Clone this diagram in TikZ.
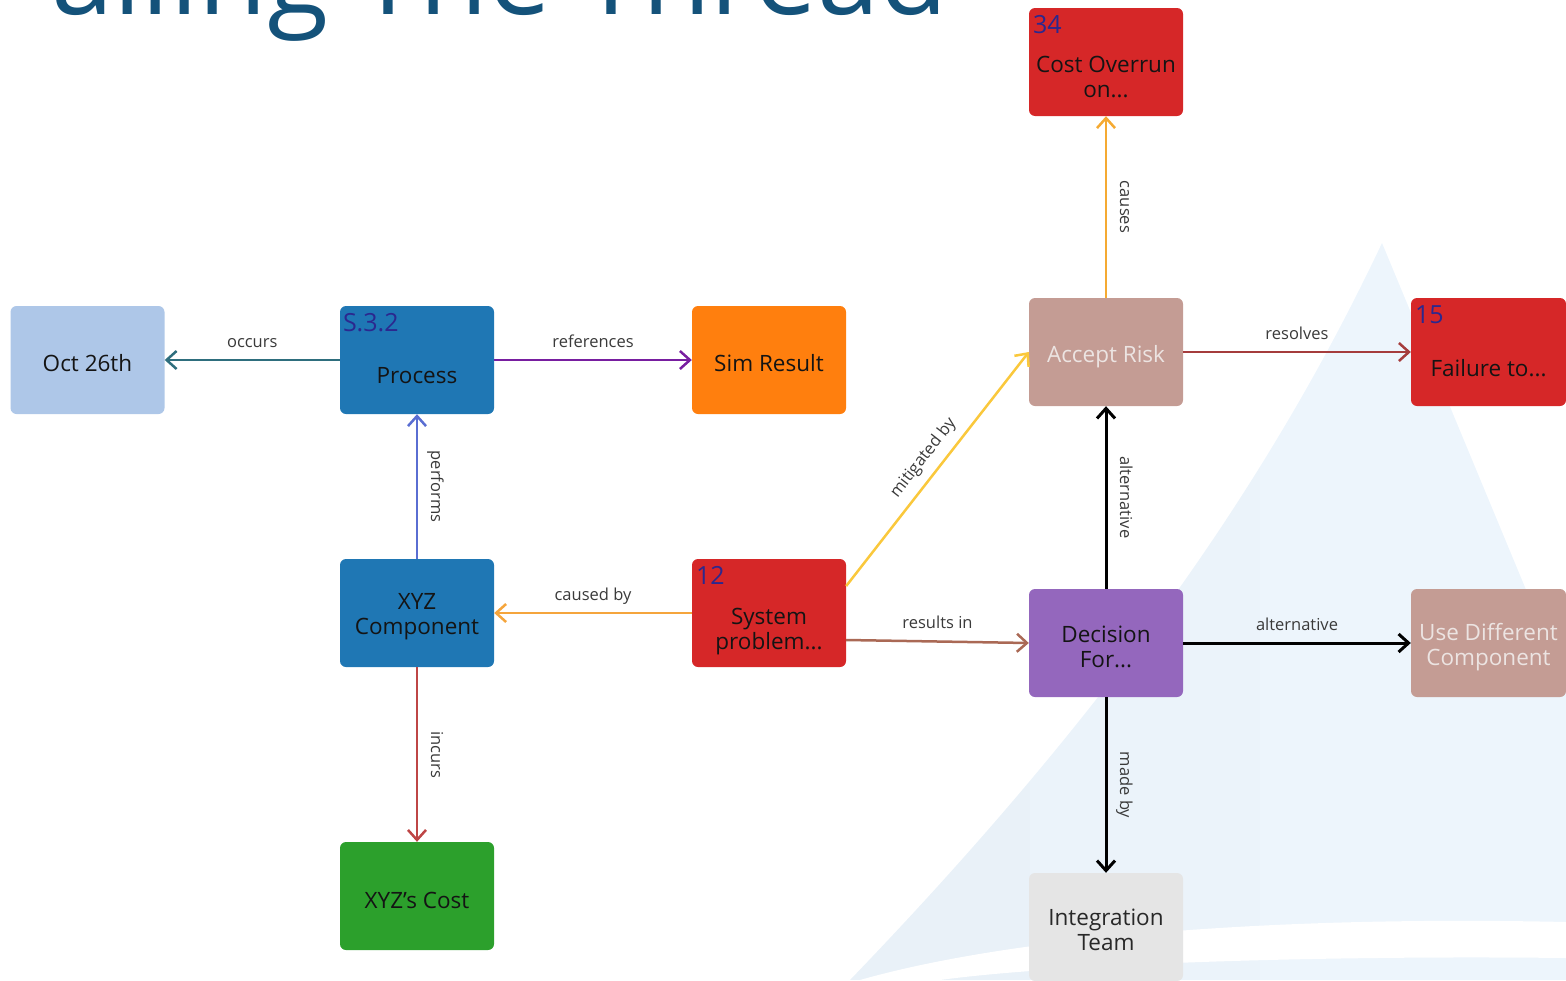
\documentclass[tikz,border=0pt]{standalone}
\usepackage{fontspec}
\setmainfont{Open Sans}
\usetikzlibrary{arrows.meta,calc}
\definecolor{titleblue}{RGB}{20,82,122}
\definecolor{numblue}{RGB}{43,40,143}
\definecolor{txtdark}{RGB}{20,20,20}
\definecolor{txtlight}{RGB}{236,228,226}
\definecolor{lbl}{RGB}{58,58,58}
\definecolor{fOct}{HTML}{AEC7E8}
\definecolor{fBlue}{HTML}{1F77B4}
\definecolor{fOrange}{HTML}{FF7F0E}
\definecolor{fRed}{HTML}{D62728}
\definecolor{fRose}{HTML}{C49C94}
\definecolor{fPurple}{HTML}{9467BD}
\definecolor{fGreen}{HTML}{2CA02C}
\definecolor{fGray}{HTML}{E5E5E5}
\definecolor{cOccurs}{RGB}{46,110,125}
\definecolor{cRefs}{RGB}{120,30,160}
\definecolor{cPerf}{RGB}{90,110,210}
\definecolor{cCaused}{RGB}{245,165,60}
\definecolor{cIncurs}{RGB}{190,70,70}
\definecolor{cMitig}{RGB}{250,200,60}
\definecolor{cResults}{RGB}{170,105,85}
\definecolor{cCauses}{RGB}{245,170,50}
\definecolor{cResolves}{RGB}{165,60,60}
\definecolor{mtnA}{RGB}{233,241,248}
\definecolor{mtnB}{RGB}{235,243,250}
\definecolor{mtnC}{RGB}{237,245,252}
\tikzset{
  box/.style={rounded corners=6pt, minimum width=154pt, minimum height=108pt, inner sep=0pt, draw=none},
  ntext/.style={font=\fontsize{22.5}{25}\selectfont, text=txtdark, align=center, inner sep=0pt},
  num/.style={font=\fontsize{25}{28}\selectfont, text=numblue, anchor=base west, inner sep=0pt},
  elab/.style={font=\fontsize{16.5}{19}\selectfont, text=lbl, text height=0.75em, text depth=0.25em, inner sep=0pt, outer sep=10.5pt},
  vlab/.style={elab, rotate=-90, anchor=south, outer sep=11.5pt},
  conn/.style={line width=2.5pt, -{Straight Barb[length=10pt,width=18pt]}},
  bconn/.style={line width=3pt, black, -{Straight Barb[length=10pt,width=18pt]}},
  titletext/.style={font=\fontsize{112}{116}\selectfont, text=titleblue, inner sep=0pt, anchor=base west},
}
\begin{document}
\begin{tikzpicture}[x=1pt,y=-1pt]
\useasboundingbox (0,0) rectangle (1566,980);
\clip (0,0) rectangle (1566,980);
% background mountain
\begin{scope}
  \clip (850,980) .. controls (1110,710) and (1270,480) .. (1382,243) -- (1566,686) -- (1566,980) -- cycle;
  \fill[mtnA] (800,200) rectangle (1030,980);
  \fill[mtnB] (1030,200) rectangle (1260,980);
  \fill[mtnC] (1260,200) rectangle (1566,980);
\end{scope}
\fill[white] (860,980) .. controls (1000,940) and (1250,915) .. (1566,922) -- (1566,958) .. controls (1300,955) and (1050,965) .. (940,980) -- cycle;
% title
\node[titletext] (title) at (51,14) {ailing The Thread};
% boxes
\node[box, fill=fOct]    (oct)   at (87.5,360) {};
\node[box, fill=fBlue]   (proc)  at (417,360)  {};
\node[box, fill=fOrange] (sim)   at (769,360)  {};
\node[box, fill=fRed]    (cost)  at (1106,62)  {};
\node[box, fill=fRose]   (acc)   at (1106,352) {};
\node[box, fill=fRed, minimum width=155pt] (fail) at (1488.5,352) {};
\node[box, fill=fBlue]   (xyz)   at (417,613)  {};
\node[box, fill=fRed]    (sys)   at (769,613)  {};
\node[box, fill=fPurple] (dec)   at (1106,643) {};
\node[box, fill=fRose, minimum width=155pt] (use) at (1488.5,643) {};
\node[box, fill=fGreen]  (xcost) at (417,896)  {};
\node[box, fill=fGray]   (integ) at (1106,927) {};
% box texts
\node[ntext] (octT)   at ($(oct.center)+(0,3)$) {Oct 26th};
\node[ntext] (procT)  at ($(proc.center)+(0,16)$) {Process};
\node[num]   (procN)  at ($(proc.north west)+(3,26)$) {S.3.2};
\node[ntext] (simT)   at ($(sim.center)+(0,3)$) {Sim Result};
\node[ntext] (costT)  at ($(cost.center)+(0,15)$) {Cost Overrun\\on...};
\node[num]   (costN)  at ($(cost.north west)+(4,26)$) {34};
\node[ntext, text=txtlight] (accT) at ($(acc.center)+(0,5)$) {Accept Risk};
\node[ntext] (failT)  at ($(fail.center)+(0,16)$) {Failure to...};
\node[num]   (failN)  at ($(fail.north west)+(4,26)$) {15};
\node[ntext] (xyzT)   at ($(xyz.center)+(0,4)$) {XYZ\\Component};
\node[ntext] (sysT)   at ($(sys.center)+(0,19)$) {System\\problem...};
\node[num]   (sysN)   at ($(sys.north west)+(4,26)$) {12};
\node[ntext] (decT)   at ($(dec.center)+(0,4)$) {Decision\\For...};
\node[ntext, text=txtlight] (useT) at ($(use.center)+(0,4)$) {Use Different\\Component};
\node[ntext] (xcostT) at ($(xcost.center)+(0,4)$) {XYZ's Cost};
\node[ntext, text={rgb,255:red,40;green,40;blue,40}] (integT) at ($(integ.center)+(0,3)$) {Integration\\Team};
% connectors
\draw[conn, cOccurs] (proc.west) -- node[elab, midway, anchor=south] (lOcc) {occurs} (oct.east);
\draw[conn, cRefs] (proc.east) -- node[elab, midway, anchor=south] (lRef) {references} (sim.west);
\draw[conn, cPerf] (xyz.north) -- node[vlab, midway] (lPerf) {performs} (proc.south);
\draw[conn, cCaused] (sys.west) -- node[elab, midway, anchor=south] (lCaus) {caused by} (xyz.east);
\draw[conn, cIncurs] (xyz.south) -- node[vlab, midway] (lInc) {incurs} (xcost.north);
\draw[conn, cMitig] ($(sys.east)+(0,-27)$) -- node[elab, midway, sloped, anchor=south, outer sep=11pt] (lMit) {mitigated by} (acc.west);
\draw[conn, cResults] ($(sys.east)+(0,27)$) -- node[elab, midway, anchor=south] (lRes) {results in} (dec.west);
\draw[conn, cCauses] (acc.north) -- node[vlab, midway] (lCauses) {causes} (cost.south);
\draw[conn, cResolves] (acc.east) -- node[elab, midway, anchor=south] (lResolves) {resolves} (fail.west);
\draw[bconn] (dec.north) -- node[vlab, midway] (lAlt1) {alternative} (acc.south);
\draw[bconn] (dec.east) -- node[elab, midway, anchor=south] (lAlt2) {alternative} (use.west);
\draw[bconn] (dec.south) -- node[vlab, midway] (lMade) {made by} (integ.north);
\end{tikzpicture}
\end{document}
